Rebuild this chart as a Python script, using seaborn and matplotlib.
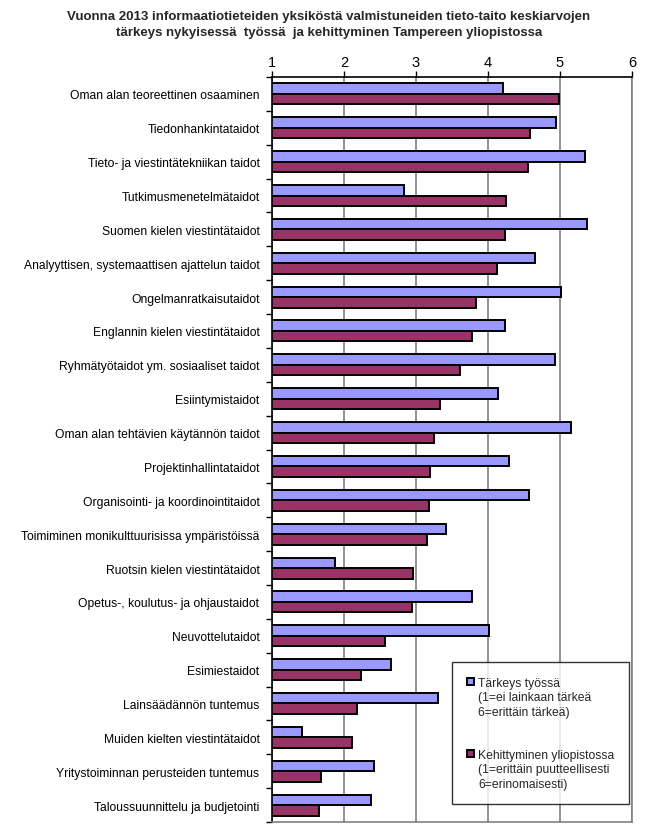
import numpy as np
import pandas as pd
import seaborn as sns
from matplotlib import pyplot as plt
from matplotlib.patches import Patch
from matplotlib.ticker import FixedLocator

taidot = [
    "Oman alan teoreettinen osaaminen",
    "Tiedonhankintataidot",
    "Tieto- ja viestintätekniikan taidot",
    "Tutkimusmenetelmätaidot",
    "Suomen kielen viestintätaidot",
    "Analyyttisen, systemaattisen ajattelun taidot",
    "Ongelmanratkaisutaidot",
    "Englannin kielen viestintätaidot",
    "Ryhmätyötaidot ym. sosiaaliset taidot",
    "Esiintymistaidot",
    "Oman alan tehtävien käytännön taidot",
    "Projektinhallintataidot",
    "Organisointi- ja koordinointitaidot",
    "Toimiminen monikulttuurisissa ympäristöissä",
    "Ruotsin kielen viestintätaidot",
    "Opetus-, koulutus- ja ohjaustaidot",
    "Neuvottelutaidot",
    "Esimiestaidot",
    "Lainsäädännön tuntemus",
    "Muiden kielten viestintätaidot",
    "Yritystoiminnan perusteiden tuntemus",
    "Taloussuunnittelu ja budjetointi",
]

tarkeys = [4.21, 4.94, 5.35, 2.83, 5.38, 4.65, 5.02, 4.23, 4.93, 4.14, 5.15,
           4.29, 4.57, 3.41, 1.88, 3.78, 4.02, 2.65, 3.31, 1.41, 2.42, 2.38]
kehittyminen = [4.99, 4.58, 4.56, 4.25, 4.24, 4.12, 3.83, 3.78, 3.61, 3.33, 3.25,
                3.20, 3.18, 3.15, 2.96, 2.94, 2.57, 2.24, 2.18, 2.11, 1.68, 1.65]

sarjat = ["Tärkeys työssä", "Kehittyminen yliopistossa"]
selitteet = [
    ["(1=ei lainkaan tärkeä", "6=erittäin tärkeä)"],
    ["(1=erittäin puutteellisesti", "6=erinomaisesti)"],
]
varit = ["#9999FF", "#993366"]

df = pd.DataFrame({
    "taito": taidot * 2,
    "arvo": tarkeys + kehittyminen,
    "sarja": [sarjat[0]] * len(taidot) + [sarjat[1]] * len(taidot),
})

sns.set_style("white")
plt.rcParams['font.family'] = ['Liberation Sans', 'DejaVu Sans']

fig = plt.figure(figsize=(6.58, 8.37), dpi=100)
ax = fig.add_axes([272 / 658, 1 - 823 / 837, 360 / 658, 745 / 837])

sns.barplot(data=df, y="taito", x="arvo", hue="sarja", orient="h",
            palette=varit, edgecolor="black", linewidth=1.4, width=0.62,
            saturation=1, ax=ax)

ax.set_xlim(1, 6)
ax.set_ylim(len(taidot) - 0.5, -0.5)
ax.set_xlabel("")
ax.set_ylabel("")

ax.xaxis.tick_top()
ax.set_xticks([1, 2, 3, 4, 5, 6])
ax.set_xticklabels(["1", "2", "3", "4", "5", "6"], fontsize=10.5, color="black")
ax.tick_params(axis="x", top=True, direction="out", length=4, width=1,
               color="black", pad=2)
ax.tick_params(axis="y", which="major", length=0, labelsize=8.7,
               labelcolor="black", pad=9)
ax.yaxis.set_minor_locator(FixedLocator(np.arange(-0.5, len(taidot), 1.0)))
ax.tick_params(axis="y", which="minor", left=True, direction="out",
               length=4, width=1, color="black")

ax.grid(axis="x", color="#808080", lw=1.2)
ax.set_axisbelow(True)

for side in ["top", "left"]:
    ax.spines[side].set_color("black")
    ax.spines[side].set_linewidth(1.2)
for side in ["bottom", "right"]:
    ax.spines[side].set_color("#808080")
    ax.spines[side].set_linewidth(1.2)

# legend: marker on first line only, continuation lines with empty handles
handles, labels = ax.get_legend_handles_labels()
tyhja = Patch(facecolor="none", edgecolor="none")
h_list, l_list = [], []
for i, (h, l) in enumerate(zip(handles, labels)):
    if i > 0:
        h_list += [tyhja, tyhja]
        l_list += ["", ""]
    h_list.append(h)
    l_list.append(l)
    for rivi in selitteet[i]:
        h_list.append(tyhja)
        l_list.append(rivi)

leg = ax.legend(h_list, l_list, loc="lower right",
                bbox_to_anchor=(0.992, 0.024), fontsize=8.7,
                frameon=True, fancybox=False, edgecolor="black",
                handlelength=0.6, handleheight=0.6, handletextpad=0.35,
                labelspacing=0.2, borderpad=1.2, borderaxespad=0)
leg.get_frame().set_linewidth(1.0)

fig.text(0.5, 1 - 25 / 837,
         "Vuonna 2013 informaatiotieteiden yksiköstä valmistuneiden tieto-taito keskiarvojen\n"
         "tärkeys nykyisessä  työssä  ja kehittyminen Tampereen yliopistossa",
         ha="center", va="center", fontsize=9.5, fontweight="bold",
         family=["Liberation Sans Narrow", "Liberation Sans", "DejaVu Sans"],
         linespacing=1.35)

plt.savefig("out.png", dpi=100)
plt.close()
